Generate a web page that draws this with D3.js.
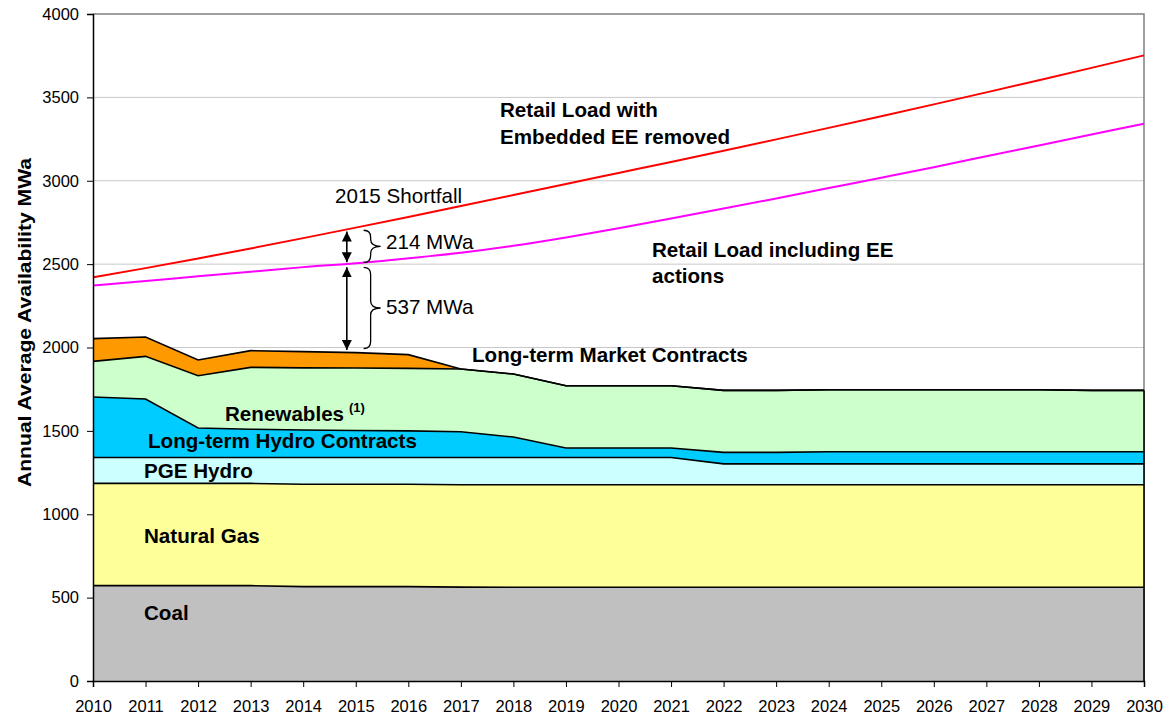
<!DOCTYPE html>
<html>
<head>
<meta charset="utf-8">
<script src="https://cdn.jsdelivr.net/npm/d3@7"></script>
<style>
  body { margin: 0; background: #fff; }
  text { font-family: "Liberation Sans", Arial, sans-serif; fill: #000; }
</style>
</head>
<body>
<div id="chart"></div>
<script>
// Years on the x axis
const years = [2010, 2011, 2012, 2013, 2014, 2015, 2016, 2017, 2018, 2019, 2020,
               2021, 2022, 2023, 2024, 2025, 2026, 2027, 2028, 2029, 2030];

// Stacked resources (MWa, each layer's own contribution)
const coal       = [572, 572, 572, 572, 566, 566, 566, 563, 562, 562, 562, 562, 562, 562, 562, 562, 562, 562, 562, 562, 562];
const naturalGas = [613, 613, 613, 613, 614, 614, 614, 614, 615, 615, 615, 615, 615, 615, 615, 615, 615, 615, 615, 615, 615];
const pgeHydro   = [155, 155, 155, 155, 160, 160, 160, 163, 163, 163, 163, 163, 125, 125, 125, 125, 125, 125, 125, 125, 125];
const ltHydro    = [363, 351, 177, 170, 165, 162, 160, 155, 123, 57, 57, 57, 69, 69, 73, 73, 73, 73, 73, 73, 73];
const renewables = [214, 256, 314, 371, 373, 375, 375, 376, 378, 374, 374, 374, 372, 372, 372, 372, 372, 372, 372, 368, 368];
const ltMarket   = [136, 116, 94, 100, 97, 92, 82, 0, 0, 0, 0, 0, 0, 0, 0, 0, 0, 0, 0, 0, 0];

// Load forecasts (MWa)
const loadNoEE   = [2421, 2476, 2534, 2594, 2656, 2719, 2783, 2848, 2914, 2981, 3047,
                    3113, 3180, 3248, 3317, 3387, 3458, 3530, 3603, 3677, 3752];
const loadWithEE = [2372, 2399, 2427, 2454, 2482, 2505, 2535, 2568, 2610, 2660, 2715,
                    2773, 2833, 2894, 2956, 3018, 3081, 3147, 3212, 3277, 3342];

const layerKeys   = ["coal", "gas", "pgeHydro", "ltHydro", "renewables", "ltMarket"];
const layerColors = ["#C0C0C0", "#FFFF99", "#CCFFFF", "#00CCFF", "#CCFFCC", "#FF9900"];
const yTicks = [0, 500, 1000, 1500, 2000, 2500, 3000, 3500, 4000];

// Shortfall annotation year (arrows drawn just left of 2015)
const arrowYear = 2014.83;
const braceYear = 2015.15;
const shortfallIndex = years.indexOf(2015);

const width = 1164, height = 715;
const margin = { top: 14, right: 20, bottom: 34, left: 93 };

const svg = d3.select("#chart").append("svg")
    .attr("width", width)
    .attr("height", height);

const x = d3.scaleLinear().domain([2010, 2030]).range([margin.left, width - margin.right]);
const y = d3.scaleLinear().domain([0, 4000]).range([height - margin.bottom, margin.top]);

// Gridlines
svg.append("g")
    .selectAll("line")
    .data(yTicks.filter(d => d > 0 && d < 4000))
    .enter().append("line")
    .attr("x1", x(2010)).attr("x2", x(2030))
    .attr("y1", d => y(d)).attr("y2", d => y(d))
    .attr("stroke", "#c8c8c8")
    .attr("stroke-width", 1);

// Plot frame (top and right in grey)
svg.append("path")
    .attr("d", `M${x(2010)},${y(4000)}H${x(2030)}V${y(0)}`)
    .attr("fill", "none")
    .attr("stroke", "#808080")
    .attr("stroke-width", 1.5);

// Stack table
const table = years.map((yr, i) => ({
    year: yr,
    coal: coal[i],
    gas: naturalGas[i],
    pgeHydro: pgeHydro[i],
    ltHydro: ltHydro[i],
    renewables: renewables[i],
    ltMarket: ltMarket[i]
}));

const series = d3.stack().keys(layerKeys)(table);

const area = d3.area()
    .x(d => x(d.data.year))
    .y0(d => y(d[0]))
    .y1(d => y(d[1]));

const topLine = d3.line()
    .x(d => x(d.data.year))
    .y(d => y(d[1]));

svg.append("g")
    .selectAll("path")
    .data(series)
    .enter().append("path")
    .attr("d", area)
    .attr("fill", (d, i) => layerColors[i]);

svg.append("g")
    .selectAll("path")
    .data(series)
    .enter().append("path")
    .attr("d", topLine)
    .attr("fill", "none")
    .attr("stroke", "#000")
    .attr("stroke-width", 1.6);

// Right edge of the stack in black
const stackTop = series[series.length - 1];
svg.append("line")
    .attr("x1", x(2030)).attr("x2", x(2030))
    .attr("y1", y(0)).attr("y2", y(stackTop[stackTop.length - 1][1]))
    .attr("stroke", "#000")
    .attr("stroke-width", 1.6);

// Load lines
const loadLine = d3.line()
    .x((d, i) => x(years[i]))
    .y(d => y(d))
    .curve(d3.curveMonotoneX);

svg.append("path")
    .datum(loadNoEE)
    .attr("d", loadLine)
    .attr("fill", "none")
    .attr("stroke", "#FF0000")
    .attr("stroke-width", 2);

svg.append("path")
    .datum(loadWithEE)
    .attr("d", loadLine)
    .attr("fill", "none")
    .attr("stroke", "#FF00FF")
    .attr("stroke-width", 2);

// Axes
const xAxis = d3.axisBottom(x)
    .tickValues(years)
    .tickFormat(d3.format("d"))
    .tickSize(6)
    .tickPadding(13);

const gx = svg.append("g")
    .attr("transform", `translate(0,${y(0)})`)
    .call(xAxis);

const yAxis = d3.axisLeft(y)
    .tickValues(yTicks)
    .tickFormat(d3.format("d"))
    .tickSize(6)
    .tickPadding(8);

const gy = svg.append("g")
    .attr("transform", `translate(${x(2010)},0)`)
    .call(yAxis);

[gx, gy].forEach(g => {
    g.select(".domain").attr("stroke", "#000").attr("stroke-width", 1.5);
    g.selectAll(".tick line").attr("stroke", "#000");
    g.selectAll(".tick text")
        .attr("fill", "#000")
        .style("font-family", "'Liberation Sans', Arial, sans-serif")
        .style("font-size", "16.5px");
});

// Y axis title
svg.append("text")
    .attr("transform", `translate(31,${(158 + 487) / 2}) rotate(-90)`)
    .attr("text-anchor", "middle")
    .attr("font-weight", "bold")
    .attr("font-size", 18)
    .attr("textLength", 329)
    .attr("lengthAdjust", "spacingAndGlyphs")
    .text("Annual Average Availability MWa");

// Shortfall arrows
const defs = svg.append("defs");
defs.append("marker")
    .attr("id", "head")
    .attr("viewBox", "0 0 10 10")
    .attr("refX", 10).attr("refY", 5)
    .attr("markerWidth", 10).attr("markerHeight", 10)
    .attr("markerUnits", "userSpaceOnUse")
    .attr("orient", "auto-start-reverse")
    .append("path")
    .attr("d", "M0,0L10,5L0,10Z")
    .attr("fill", "#000");

const redAt = loadNoEE[shortfallIndex];
const pinkAt = loadWithEE[shortfallIndex];
const supplyAt = d3.sum(layerKeys.map(k => table[shortfallIndex][k]));

function arrow(v1, v2) {
    svg.append("line")
        .attr("x1", x(arrowYear)).attr("x2", x(arrowYear))
        .attr("y1", y(v1) + 4).attr("y2", y(v2) - 1)
        .attr("stroke", "#000")
        .attr("stroke-width", 1.6)
        .attr("marker-start", "url(#head)")
        .attr("marker-end", "url(#head)");
}
arrow(redAt, pinkAt);
arrow(pinkAt, supplyAt + 10);

function brace(v1, v2) {
    const x0 = x(braceYear), w = 17, h = 7;
    const y1 = y(v1), y2 = y(v2), m = (y1 + y2) / 2;
    svg.append("path")
        .attr("d", `M${x0},${y1}Q${x0 + h},${y1} ${x0 + h},${y1 + h}` +
                   `L${x0 + h},${m - h}Q${x0 + h},${m} ${x0 + w},${m}` +
                   `Q${x0 + h},${m} ${x0 + h},${m + h}` +
                   `L${x0 + h},${y2 - h}Q${x0 + h},${y2} ${x0},${y2}`)
        .attr("fill", "none")
        .attr("stroke", "#000")
        .attr("stroke-width", 1.3);
}
brace(redAt - 16, pinkAt + 5);
brace(pinkAt - 25, supplyAt + 25);

// Labels
const labels = [
    { t: "Coal", x: 144, y: 620, b: true },
    { t: "Natural Gas", x: 144, y: 543, b: true },
    { t: "PGE Hydro", x: 144, y: 478, b: true },
    { t: "Long-term Hydro Contracts", x: 148, y: 448, b: true },
    { t: "Renewables", x: 225, y: 421, b: true },
    { t: "Long-term Market Contracts", x: 472, y: 362, b: true },
    { t: "Retail Load with", x: 500, y: 117, b: true },
    { t: "Embedded EE removed", x: 500, y: 144, b: true },
    { t: "Retail Load including EE", x: 652, y: 257, b: true },
    { t: "actions", x: 652, y: 283, b: true },
    { t: "2015 Shortfall", x: 335, y: 203, b: false },
    { t: "214 MWa", x: 386, y: 249, b: false },
    { t: "537 MWa", x: 386, y: 314, b: false }
];

svg.append("g")
    .selectAll("text")
    .data(labels)
    .enter().append("text")
    .attr("x", d => d.x)
    .attr("y", d => d.y)
    .attr("font-size", 20.6)
    .attr("font-weight", d => d.b ? "bold" : "normal")
    .text(d => d.t);

svg.append("text")
    .attr("x", 349)
    .attr("y", 412)
    .attr("font-size", 13)
    .attr("font-weight", "bold")
    .text("(1)");
</script>
</body>
</html>
